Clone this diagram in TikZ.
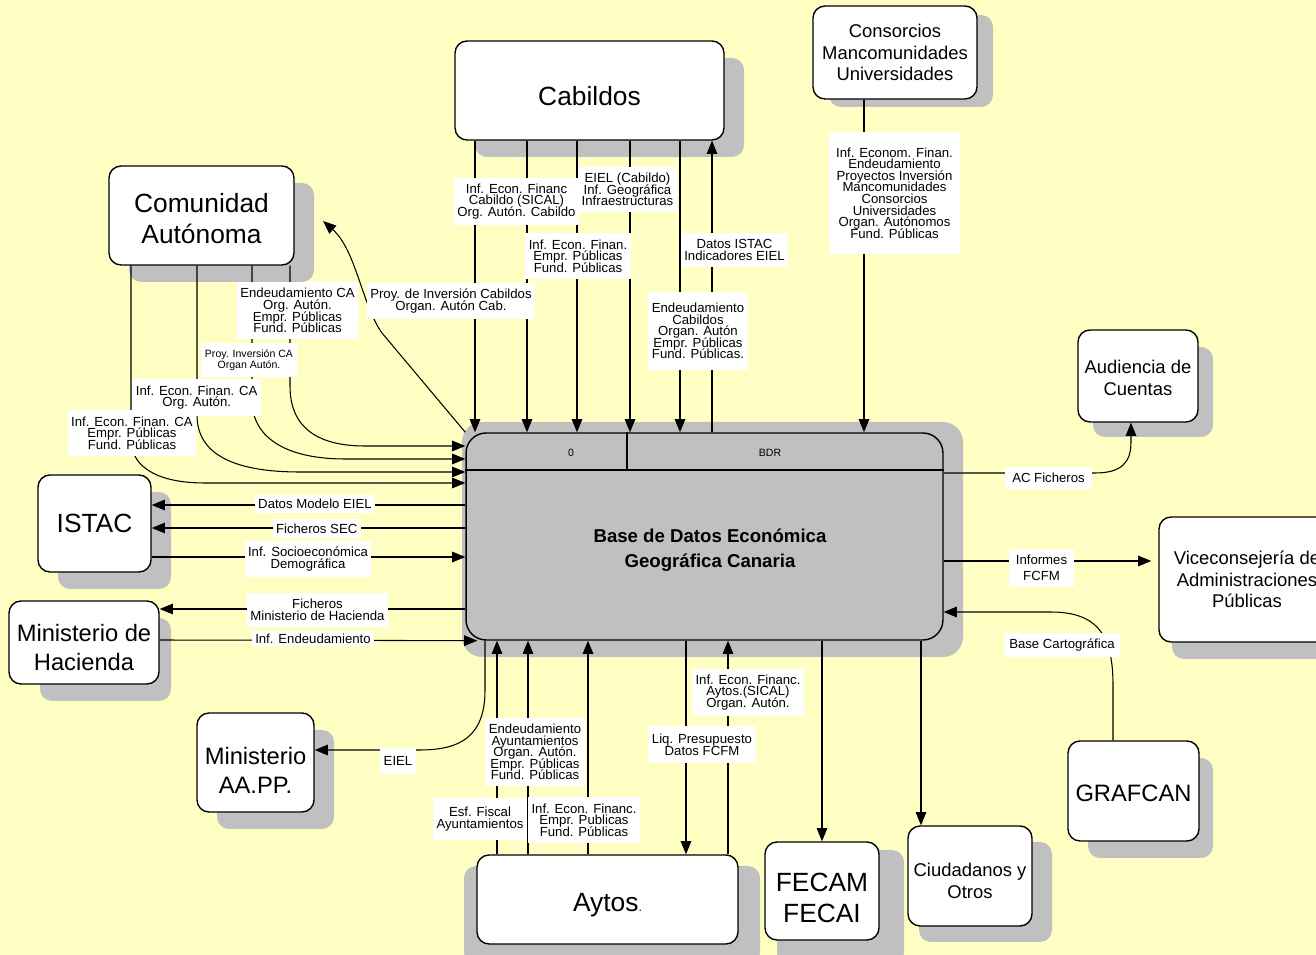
\documentclass[tikz,border=0pt]{standalone}
\usepackage{fontspec}
\setmainfont{Liberation Sans}
\usetikzlibrary{arrows.meta}
\definecolor{paper}{RGB}{255,255,196}
\definecolor{shadowgray}{RGB}{192,192,192}

% lower a line of box text without changing the box size
\newcommand{\lowered}[2]{\raisebox{-#1}[\height][\depth]{#2}}
% let label lines sit closer than their letters allow
\newcommand{\tightlines}{\lineskiplimit=-20pt\relax}

\tikzset{
  entity/.style={draw, line width=0.8pt, fill=white, rounded corners=0.24cm, align=center,
    inner sep=0pt, font=\fontsize{15}{18}\selectfont},
  midentity/.style={entity, font=\fontsize{13.5}{16.4}\selectfont},
  smallentity/.style={entity, font=\fontsize{10.5}{12.4}\selectfont},
  boxshadow/.style={fill=shadowgray, rounded corners=0.24cm},
  flow/.style={line width=0.6pt},
  flowlabel/.style={fill=white, inner xsep=2pt, inner ysep=3.5pt, align=center,
    font=\fontsize{7.5}{6.6}\selectfont\tightlines},
  tinylabel/.style={flowlabel, font=\fontsize{6}{6.3}\selectfont\tightlines},
}

\begin{document}
\begin{tikzpicture}[x=0.02cm, y=-0.02cm, >={Triangle[length=7.5pt, width=6pt]}]
  \useasboundingbox (0,0) rectangle (1316,955);
  \fill[paper] (0,0) rectangle (1316,955);

  % Shadows
  \fill[boxshadow] (475,58) rectangle (744,157);
  \fill[boxshadow] (829,15) rectangle (993,107);
  \fill[boxshadow] (129,183) rectangle (314,282);
  \fill[boxshadow] (1093,347) rectangle (1213,437);
  \fill[boxshadow] (58,492) rectangle (171,589);
  \fill[boxshadow] (40,618) rectangle (171,701);
  \fill[boxshadow] (217,730) rectangle (334,829);
  \fill[boxshadow] (1172,534) rectangle (1340,659);
  \fill[boxshadow] (1088,758) rectangle (1213,858);
  \fill[boxshadow] (464,866) rectangle (760,965);
  \fill[boxshadow] (777,850) rectangle (904,965);
  \fill[boxshadow] (919,842) rectangle (1052,942);
  \fill[boxshadow, rounded corners=0.4cm] (462,422) rectangle (963,657);

  % Entities
  \node[entity, minimum width=5.38cm, minimum height=1.98cm] (cab) at (589.5,90.5)
    {\lowered{3.4pt}{Cabildos}};
  \node[smallentity, minimum width=3.28cm, minimum height=1.86cm] (cons) at (895,52.5)
    {Consorcios\\Mancomunidades\\Universidades};
  \node[entity, minimum width=3.7cm, minimum height=1.98cm] (ca) at (201.5,215.5)
    {\lowered{1.7pt}{Comunidad}\\\lowered{1.7pt}{Autónoma}};
  \node[smallentity, minimum width=2.4cm, minimum height=1.84cm] (aud) at (1138,376)
    {\lowered{1.2pt}{Audiencia de}\\\lowered{1.2pt}{Cuentas}};
  \node[entity, minimum width=2.26cm, minimum height=1.94cm] (istac) at (94.5,523.5) {ISTAC};
  \node[midentity, minimum width=3.0cm, minimum height=1.66cm] (mh) at (84,642.5)
    {\lowered{2.8pt}{Ministerio de}\\\lowered{2.8pt}{Hacienda}};
  \node[midentity, minimum width=2.34cm, minimum height=1.98cm] (aapp) at (255.5,762.5)
    {\lowered{4.5pt}{Ministerio}\\\lowered{4.5pt}{AA.PP.}};
  \node[smallentity, minimum width=3.52cm, minimum height=2.5cm] (vice) at (1247,579.5)
    {Viceconsejería de\\Administraciones\\Públicas};
  \node[midentity, minimum width=2.62cm, minimum height=2.0cm] (graf) at (1133.5,791)
    {\lowered{1.2pt}{GRAFCAN}};
  \node[entity, minimum width=5.22cm, minimum height=1.78cm] (aytos) at (607.5,899.5)
    {\lowered{3.4pt}{Aytos{\fontsize{7}{7}\selectfont.}}};
  \node[entity, minimum width=2.28cm, minimum height=1.96cm] (fecam) at (822,891)
    {\lowered{4pt}{FECAM}\\\lowered{4pt}{FECAI}};
  \node[smallentity, minimum width=2.48cm, minimum height=2.0cm] (ciud) at (970,876)
    {\lowered{2.8pt}{Ciudadanos y}\\\lowered{2.8pt}{Otros}};

  % Central database
  \node[draw, line width=0.8pt, fill=shadowgray, rounded corners=0.4cm,
    minimum width=9.54cm, minimum height=4.14cm] (bdr) at (704.5,536.5) {};
  \draw[line width=0.8pt] (bdr.west |- 0,470) -- (bdr.east |- 0,470);
  \draw[line width=0.8pt] (bdr.north -| 627,0) -- (627,470);
  \node[font=\fontsize{6}{7}\selectfont] (bdrid) at (571,453) {0};
  \node[font=\fontsize{6}{7}\selectfont] (bdrname) at (770,453) {BDR};
  \node[font=\bfseries\fontsize{10.6}{14.2}\selectfont, align=center] (bdrtitle) at (710,550.5)
    {Base de Datos Económica\\Geográfica Canaria};

  % Cabildos and Consorcios
  \draw[flow, ->] (cab.south -| 475,0) -- (bdr.north -| 475,0);
  \draw[flow, ->] (cab.south -| 527,0) -- (bdr.north -| 527,0);
  \draw[flow, ->] (cab.south -| 577,0) -- (bdr.north -| 577,0);
  \draw[flow, ->] (cab.south -| 630,0) -- (bdr.north -| 630,0);
  \draw[flow, ->] (cab.south -| 680,0) -- (bdr.north -| 680,0);
  \draw[flow, ->] (bdr.north -| 712,0) -- (cab.south -| 712,0);
  \draw[flow, ->] (cons.south -| 864,0) -- (bdr.north -| 864,0);

  % Comunidad Autonoma
  \coordinate (caIn) at (323,221);
  \draw[flow, ->] (bdr.north west) -- (382,333) .. controls (362,305) and (356,250) .. (caIn);
  \draw[flow, ->] (ca.south -| 290,0) -- (290,386) .. controls (290,428) and (318,446) .. (365,446)
    -- (bdr.west |- 0,446);
  \draw[flow, ->] (ca.south -| 252,0) -- (252,400) .. controls (252,440) and (290,459) .. (345,459)
    -- (bdr.west |- 0,459);
  \draw[flow, ->] (ca.south -| 197,0) -- (197,415) .. controls (197,455) and (235,472) .. (300,472)
    -- (bdr.west |- 0,472);
  \draw[flow, ->] (ca.south -| 131,0) -- (131,440) .. controls (131,462) and (150,483) .. (205,483)
    -- (bdr.west |- 0,483);

  % ISTAC and Ministerios
  \draw[flow, ->] (bdr.west |- 0,505) -- (istac.east |- 0,505);
  \draw[flow, ->] (bdr.west |- 0,528) -- (istac.east |- 0,528);
  \draw[flow, ->] (istac.east |- 0,557) -- (bdr.west |- 0,557);
  \draw[flow, ->] (bdr.west |- 0,609) -- (mh.east |- 0,609);
  \draw[flow, ->] (mh.east |- 0,640) -- ([xshift=0.24cm]bdr.south west);
  \draw[flow, ->] (bdr.south -| 485,0) -- (485,690) .. controls (485,735) and (462,750) .. (420,750)
    -- (aapp.east |- 0,750);

  % Aytos, FECAM, Ciudadanos
  \draw[flow, ->] (aytos.north -| 497,0) -- (bdr.south -| 497,0);
  \draw[flow, ->] (aytos.north -| 528,0) -- (bdr.south -| 528,0);
  \draw[flow, ->] (aytos.north -| 588,0) -- (bdr.south -| 588,0);
  \draw[flow, ->] (bdr.south -| 686,0) -- (aytos.north -| 686,0);
  \draw[flow, ->] (aytos.north -| 728,0) -- (bdr.south -| 728,0);
  \draw[flow, ->] (bdr.south -| 822,0) -- (fecam.north);
  \draw[flow, ->] (bdr.south -| 921,0) -- (ciud.north -| 921,0);

  % Right side
  \draw[flow, ->] (bdr.east |- 0,473) -- (1095,473) .. controls (1122,473) and (1131,462) .. (1131,442)
    -- (aud.south -| 1131,0);
  \draw[flow, ->, shorten >=0.14cm] (bdr.east |- 0,561) -- (vice.west |- 0,561);
  \draw[flow, ->] (graf.north -| 1113,0) -- (1113,685) .. controls (1113,632) and (1095,612) .. (1050,612)
    -- (bdr.east |- 0,612);

  % Flow labels
  \node[flowlabel] (lCabSical) at (516.5,201.5) {Inf. Econ. Financ\\Cabildo (SICAL)\\Org. Autón. Cabildo};
  \node[flowlabel] (lCabEiel) at (627.5,189.5) {EIEL (Cabildo)\\Inf. Geográfica\\Infraestructuras};
  \node[flowlabel] (lCabEmpr) at (578,256) {Inf. Econ. Finan.\\Empr. Públicas\\Fund. Públicas};
  \node[flowlabel] (lCabIstac) at (734.5,250) {Datos ISTAC\\Indicadores EIEL};
  \node[flowlabel] (lCabProy) at (451,301) {Proy. de Inversión Cabildos\\Organ. Autón Cab.};
  \node[flowlabel, inner ysep=6pt] (lCabEnd) at (698,331)
    {Endeudamiento\\Cabildos\\Organ. Autón\\Empr. Públicas\\Fund. Públicas.};
  \node[flowlabel, inner xsep=4pt, inner ysep=9pt] (lCons) at (894.5,193)
    {Inf. Econom. Finan.\\Endeudamiento\\Proyectos Inversión\\Mancomunidades\\Consorcios\\Universidades\\Organ. Autónomos\\Fund. Públicas};
  \node[flowlabel] (lCaEnd) at (297.5,310.5) {Endeudamiento CA\\Org. Autón.\\Empr. Públicas\\Fund. Públicas};
  \node[tinylabel] (lCaProy) at (249,360) {Proy. Inversión CA\\Organ Autón.};
  \node[flowlabel] (lCaOrg) at (196.7,397.5) {Inf. Econ. Finan. CA\\Org. Autón.};
  \node[flowlabel] (lCaEmpr) at (132,433) {Inf. Econ. Finan. CA\\Empr. Públicas\\Fund. Públicas};
  \node[flowlabel, inner ysep=2.5pt] (lIstacEiel) at (315,504) {Datos Modelo EIEL};
  \node[flowlabel, inner ysep=2.5pt] (lIstacSec) at (316.7,528.5) {Ficheros SEC};
  \node[flowlabel] (lIstacSocio) at (308,559) {Inf. Socioeconómica\\Demográfica};
  \node[flowlabel] (lMhFich) at (317.5,610) {Ficheros\\Ministerio de Hacienda};
  \node[flowlabel, inner ysep=1.5pt] (lMhEnd) at (313,638.5) {Inf. Endeudamiento};
  \node[flowlabel, inner ysep=5pt] (lAappEiel) at (398,761) {EIEL};
  \node[flowlabel, inner ysep=5pt] (lAytEsf) at (480,819) {Esf. Fiscal\\Ayuntamientos};
  \node[flowlabel] (lAytEnd) at (535,752)
    {Endeudamiento\\Ayuntamientos\\Organ. Autón.\\Empr. Públicas\\Fund. Públicas};
  \node[flowlabel] (lAytEmpr) at (584,820) {Inf. Econ. Financ.\\Empr. Publicas\\Fund. Públicas};
  \node[flowlabel, inner ysep=4.5pt] (lAytLiq) at (702,744.5) {Liq. Presupuesto\\Datos FCFM};
  \node[flowlabel] (lAytSical) at (748,692.5) {Inf. Econ. Financ.\\Aytos.(SICAL)\\Organ. Autón.};
  \node[flowlabel, inner xsep=4pt] (lAudFich) at (1048.5,478) {AC Ficheros};
  \node[flowlabel, inner xsep=4pt, font=\fontsize{7.5}{9.2}\selectfont] (lViceInf) at (1041.5,568)
    {Informes\\FCFM};
  \node[flowlabel, inner xsep=3pt] (lGrafBase) at (1062,645) {Base Cartográfica};
\end{tikzpicture}
\end{document}
